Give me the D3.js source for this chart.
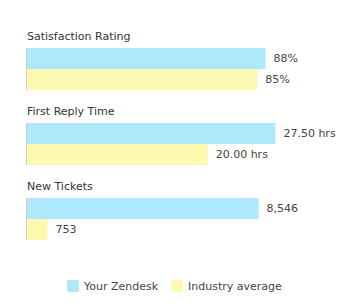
<!DOCTYPE html>
<html><head><meta charset="utf-8">
<script src="https://cdn.jsdelivr.net/npm/d3@7"></script>
<style>body{margin:0;background:#fff}text{font-family:"DejaVu Sans",sans-serif}</style>
</head><body>
<script>
const categories = ["Satisfaction Rating", "First Reply Time", "New Tickets"];
const yourValues = [88, 27.5, 8546];
const industryValues = [85, 20, 753];
const domainMax = [100, 30, 10000];
const valueLabelsYour = ["88%", "27.50 hrs", "8,546"];
const valueLabelsIndustry = ["85%", "20.00 hrs", "753"];
const seriesNames = ["Your Zendesk", "Industry average"];
const colors = ["#aee8fb", "#fef9b1"];

const W = 349, H = 308;
const svg = d3.select("body").append("svg").attr("width", W).attr("height", H);

const gy = d3.scaleBand().domain(categories).range([48, 273]).paddingInner(0).paddingOuter(0);
const barH = 21;

categories.forEach((c, i) => {
  const x = d3.scaleLinear().domain([0, domainMax[i]]).range([27, 298]);
  const y0 = gy(c);
  const g = svg.append("g");
  g.append("text").attr("x", 27).attr("y", y0 - 8).attr("font-size", 11).attr("fill", "#333").text(c);
  const vals = [yourValues[i], industryValues[i]];
  const labs = [valueLabelsYour[i], valueLabelsIndustry[i]];
  vals.forEach((v, j) => {
    g.append("rect").attr("x", x(0)).attr("y", y0 + j * barH).attr("width", x(v) - x(0)).attr("height", barH).attr("fill", colors[j]);
    g.append("text").attr("x", x(v) + 8).attr("y", y0 + j * barH + barH / 2).attr("dy", "0.35em")
      .attr("font-size", 11).attr("fill", "#444").text(labs[j]);
  });
  g.append("line").attr("x1", 26.5).attr("x2", 26.5).attr("y1", y0).attr("y2", y0 + 2 * barH).attr("stroke", "#ccc").attr("stroke-width", 1);
});

const legX = [67, 171];
seriesNames.forEach((s, j) => {
  svg.append("rect").attr("x", legX[j]).attr("y", 280).attr("width", 12).attr("height", 12).attr("rx", 2).attr("fill", colors[j]);
  svg.append("text").attr("x", legX[j] + 17).attr("y", 286).attr("dy", "0.35em").attr("font-size", 11).attr("fill", "#444").text(s);
});
</script>
</body></html>
